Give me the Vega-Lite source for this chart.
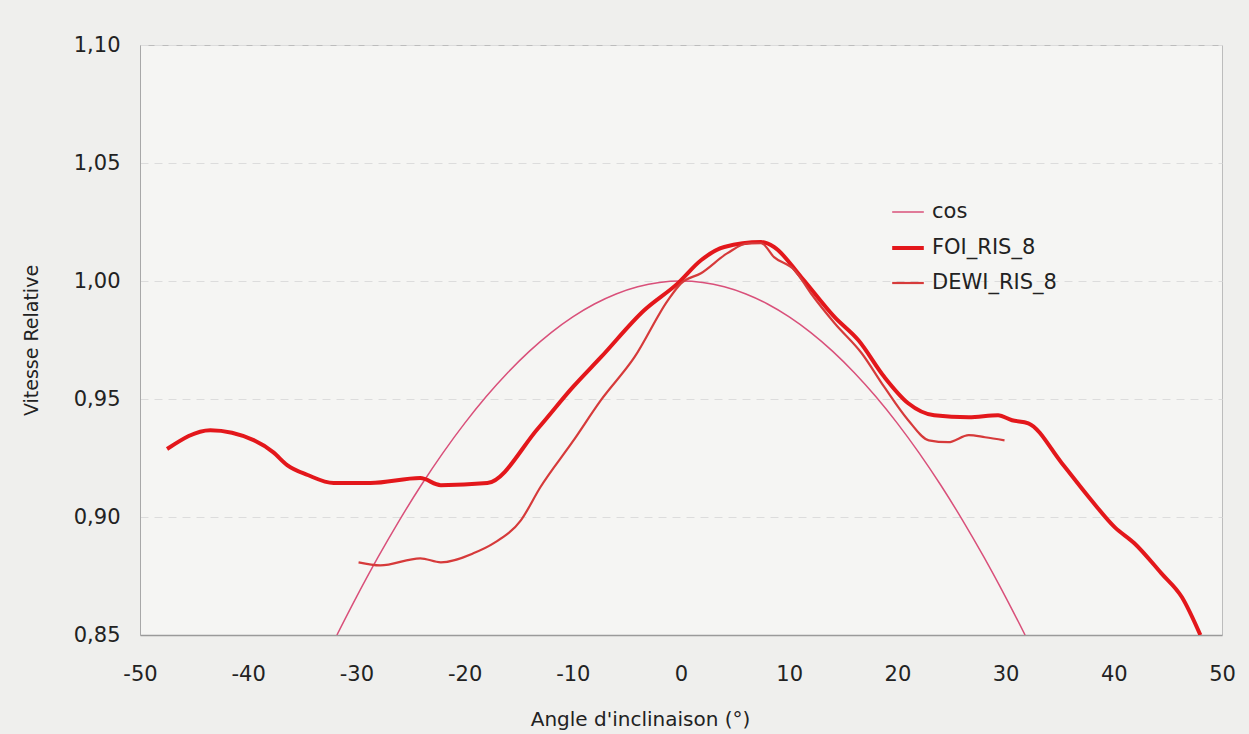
{
  "$schema": "https://vega.github.io/schema/vega-lite/v6.json",
  "autosize": "none",
  "width": 1082,
  "height": 590,
  "padding": {"left": 140, "top": 45, "right": 27, "bottom": 99},
  "background": "#efefed",
  "config": {
    "view": {"fill": "#f5f5f3", "stroke": "#bcbcbc", "strokeWidth": 1},
    "font": "DejaVu Sans"
  },
  "data": {
    "values": [
      {"s": "cos", "x": -31.8, "y": 0.85},
      {"s": "cos", "x": -30, "y": 0.86603},
      {"s": "cos", "x": -28, "y": 0.88295},
      {"s": "cos", "x": -26, "y": 0.89879},
      {"s": "cos", "x": -24, "y": 0.91355},
      {"s": "cos", "x": -22, "y": 0.92718},
      {"s": "cos", "x": -20, "y": 0.93969},
      {"s": "cos", "x": -18, "y": 0.95106},
      {"s": "cos", "x": -16, "y": 0.96126},
      {"s": "cos", "x": -14, "y": 0.9703},
      {"s": "cos", "x": -12, "y": 0.97815},
      {"s": "cos", "x": -10, "y": 0.98481},
      {"s": "cos", "x": -8, "y": 0.99027},
      {"s": "cos", "x": -6, "y": 0.99452},
      {"s": "cos", "x": -4, "y": 0.99756},
      {"s": "cos", "x": -2, "y": 0.99939},
      {"s": "cos", "x": 0, "y": 1.0},
      {"s": "cos", "x": 2, "y": 0.99939},
      {"s": "cos", "x": 4, "y": 0.99756},
      {"s": "cos", "x": 6, "y": 0.99452},
      {"s": "cos", "x": 8, "y": 0.99027},
      {"s": "cos", "x": 10, "y": 0.98481},
      {"s": "cos", "x": 12, "y": 0.97815},
      {"s": "cos", "x": 14, "y": 0.9703},
      {"s": "cos", "x": 16, "y": 0.96126},
      {"s": "cos", "x": 18, "y": 0.95106},
      {"s": "cos", "x": 20, "y": 0.93969},
      {"s": "cos", "x": 22, "y": 0.92718},
      {"s": "cos", "x": 24, "y": 0.91355},
      {"s": "cos", "x": 26, "y": 0.89879},
      {"s": "cos", "x": 28, "y": 0.88295},
      {"s": "cos", "x": 30, "y": 0.86603},
      {"s": "cos", "x": 31.8, "y": 0.85},

      {"s": "FOI_RIS_8", "x": -47.5, "y": 0.9288},
      {"s": "FOI_RIS_8", "x": -43.5, "y": 0.9368},
      {"s": "FOI_RIS_8", "x": -39.5, "y": 0.9326},
      {"s": "FOI_RIS_8", "x": -37.7, "y": 0.9275},
      {"s": "FOI_RIS_8", "x": -36.4, "y": 0.922},
      {"s": "FOI_RIS_8", "x": -34.5, "y": 0.9178},
      {"s": "FOI_RIS_8", "x": -32.1, "y": 0.9144},
      {"s": "FOI_RIS_8", "x": -28.7, "y": 0.9144},
      {"s": "FOI_RIS_8", "x": -24.1, "y": 0.9165},
      {"s": "FOI_RIS_8", "x": -22.2, "y": 0.9135},
      {"s": "FOI_RIS_8", "x": -17.9, "y": 0.9144},
      {"s": "FOI_RIS_8", "x": -13.2, "y": 0.9376},
      {"s": "FOI_RIS_8", "x": -10, "y": 0.955},
      {"s": "FOI_RIS_8", "x": -7.4, "y": 0.9677},
      {"s": "FOI_RIS_8", "x": -3.4, "y": 0.9876},
      {"s": "FOI_RIS_8", "x": -0.3, "y": 0.999},
      {"s": "FOI_RIS_8", "x": 1.85, "y": 1.0088},
      {"s": "FOI_RIS_8", "x": 4.0, "y": 1.0144},
      {"s": "FOI_RIS_8", "x": 7.4, "y": 1.0165},
      {"s": "FOI_RIS_8", "x": 8.6, "y": 1.0144},
      {"s": "FOI_RIS_8", "x": 11.1, "y": 1.0017},
      {"s": "FOI_RIS_8", "x": 14.2, "y": 0.9847},
      {"s": "FOI_RIS_8", "x": 16.4, "y": 0.9749},
      {"s": "FOI_RIS_8", "x": 18.8, "y": 0.9593},
      {"s": "FOI_RIS_8", "x": 21.0, "y": 0.9482},
      {"s": "FOI_RIS_8", "x": 23.4, "y": 0.9431},
      {"s": "FOI_RIS_8", "x": 26.6, "y": 0.9423},
      {"s": "FOI_RIS_8", "x": 29.3, "y": 0.9431},
      {"s": "FOI_RIS_8", "x": 30.6, "y": 0.941},
      {"s": "FOI_RIS_8", "x": 32.1, "y": 0.9397},
      {"s": "FOI_RIS_8", "x": 35.2, "y": 0.9228},
      {"s": "FOI_RIS_8", "x": 37.7, "y": 0.9084},
      {"s": "FOI_RIS_8", "x": 40.1, "y": 0.8956},
      {"s": "FOI_RIS_8", "x": 41.9, "y": 0.8889},
      {"s": "FOI_RIS_8", "x": 44.4, "y": 0.8761},
      {"s": "FOI_RIS_8", "x": 46.3, "y": 0.866},
      {"s": "FOI_RIS_8", "x": 48.0, "y": 0.85},

      {"s": "DEWI_RIS_8", "x": -29.8, "y": 0.8808},
      {"s": "DEWI_RIS_8", "x": -27.8, "y": 0.8795},
      {"s": "DEWI_RIS_8", "x": -24.1, "y": 0.8825},
      {"s": "DEWI_RIS_8", "x": -22.2, "y": 0.8808},
      {"s": "DEWI_RIS_8", "x": -19.2, "y": 0.8846},
      {"s": "DEWI_RIS_8", "x": -17.3, "y": 0.8889},
      {"s": "DEWI_RIS_8", "x": -14.8, "y": 0.8986},
      {"s": "DEWI_RIS_8", "x": -13.0, "y": 0.9126},
      {"s": "DEWI_RIS_8", "x": -10.0, "y": 0.932},
      {"s": "DEWI_RIS_8", "x": -7.4, "y": 0.9495},
      {"s": "DEWI_RIS_8", "x": -4.3, "y": 0.9677},
      {"s": "DEWI_RIS_8", "x": -1.2, "y": 0.9919},
      {"s": "DEWI_RIS_8", "x": 0.0, "y": 0.999},
      {"s": "DEWI_RIS_8", "x": 1.85, "y": 1.0033},
      {"s": "DEWI_RIS_8", "x": 4.3, "y": 1.0118},
      {"s": "DEWI_RIS_8", "x": 6.2, "y": 1.016},
      {"s": "DEWI_RIS_8", "x": 7.4, "y": 1.016},
      {"s": "DEWI_RIS_8", "x": 8.6, "y": 1.0101},
      {"s": "DEWI_RIS_8", "x": 10.5, "y": 1.0046},
      {"s": "DEWI_RIS_8", "x": 12.0, "y": 0.9948},
      {"s": "DEWI_RIS_8", "x": 14.2, "y": 0.9821},
      {"s": "DEWI_RIS_8", "x": 16.7, "y": 0.9694},
      {"s": "DEWI_RIS_8", "x": 18.8, "y": 0.955},
      {"s": "DEWI_RIS_8", "x": 21.0, "y": 0.941},
      {"s": "DEWI_RIS_8", "x": 22.9, "y": 0.9325},
      {"s": "DEWI_RIS_8", "x": 24.7, "y": 0.9317},
      {"s": "DEWI_RIS_8", "x": 26.6, "y": 0.9347},
      {"s": "DEWI_RIS_8", "x": 28.1, "y": 0.9338},
      {"s": "DEWI_RIS_8", "x": 29.9, "y": 0.9325}
    ]
  },
  "mark": {"type": "line", "interpolate": "monotone", "clip": true},
  "encoding": {
    "x": {
      "field": "x", "type": "quantitative",
      "scale": {"domain": [-50, 50], "nice": false, "zero": false},
      "axis": {
        "values": [-50, -40, -30, -20, -10, 0, 10, 20, 30, 40, 50],
        "labelExpr": "'' + datum.value",
        "labelFlush": false, "labelOverlap": false,
        "grid": false, "ticks": false,
        "domainColor": "#9a9a9a", "domainWidth": 1.5,
        "labelFontSize": 21, "labelColor": "#222222", "labelPadding": 28,
        "title": "Angle d'inclinaison (°)", "titleFontSize": 20, "titleFontWeight": "normal",
        "titleColor": "#222222", "titlePadding": 25, "titleX": 500
      }
    },
    "y": {
      "field": "y", "type": "quantitative",
      "scale": {"domain": [0.85, 1.1], "nice": false, "zero": false},
      "axis": {
        "values": [0.85, 0.9, 0.95, 1.0, 1.05, 1.1],
        "labelExpr": "replace(format(datum.value, '.2f'), '.', ',')",
        "labelFlush": false, "labelOverlap": false,
        "grid": true, "gridColor": "#dcdcdc", "gridDash": [8, 6], "gridWidth": 1,
        "ticks": false, "domainColor": "#a8a8a8",
        "labelFontSize": 21, "labelColor": "#222222", "labelPadding": 20,
        "title": "Vitesse Relative", "titleFontSize": 19, "titleFontWeight": "normal",
        "titleColor": "#222222", "titlePadding": 32
      }
    },
    "color": {
      "field": "s", "type": "nominal",
      "scale": {"domain": ["cos", "FOI_RIS_8", "DEWI_RIS_8"], "range": ["#d9507a", "#e3171b", "#d63a3a"]},
      "legend": {
        "title": null, "orient": "none", "legendX": 750, "legendY": 150,
        "symbolType": "stroke", "symbolSize": 1000,
        "labelFontSize": 21, "labelColor": "#222222", "labelOffset": 6,
        "rowPadding": 8
      }
    },
    "strokeWidth": {
      "field": "s", "type": "nominal",
      "scale": {"type": "ordinal", "domain": ["cos", "FOI_RIS_8", "DEWI_RIS_8"], "range": [1.5, 4, 2.2]},
      "legend": null
    }
  }
}
